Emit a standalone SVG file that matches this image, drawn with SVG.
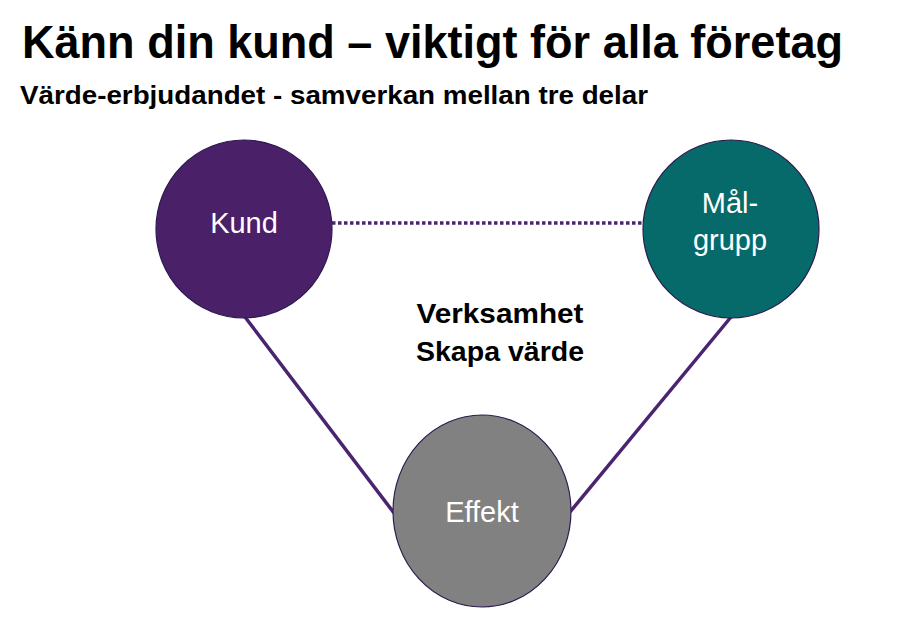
<svg xmlns="http://www.w3.org/2000/svg" width="910" height="618" viewBox="0 0 910 618">
  <style>
    .title { font-family: "Liberation Sans", Arial, sans-serif; font-weight: bold; fill: #000; }
    .label { font-family: "Liberation Sans", Arial, sans-serif; font-size: 29px; fill: #ffffff; text-anchor: middle; }
    .center { font-family: "Liberation Sans", Arial, sans-serif; font-weight: bold; font-size: 27px; fill: #000; text-anchor: middle; }
    .node { stroke: #2e1a4f; stroke-width: 1.2; }
    .conn { stroke: #4a2470; stroke-width: 3.5; fill: none; }
  </style>
  <rect width="910" height="618" fill="#ffffff"/>
  <text class="title" x="22" y="58" font-size="46" textLength="821" lengthAdjust="spacingAndGlyphs">Känn din kund – viktigt för alla företag</text>
  <text class="title" x="20" y="104" font-size="25" textLength="628" lengthAdjust="spacingAndGlyphs">Värde-erbjudandet - samverkan mellan tre delar</text>

  <g id="connectors">
    <line class="conn" x1="332" y1="223" x2="643" y2="223" stroke-dasharray="3.5 2.5"/>
    <line class="conn" x1="245" y1="317" x2="394" y2="513"/>
    <line class="conn" x1="731" y1="317" x2="570" y2="512"/>
  </g>

  <g id="kund">
    <ellipse class="node" cx="244" cy="229" rx="88" ry="89" fill="#4a2068"/>
    <text class="label" x="244" y="233">Kund</text>
  </g>
  <g id="malgrupp">
    <ellipse class="node" cx="731" cy="229" rx="88" ry="89" fill="#066a6a"/>
    <text class="label" x="730" y="213">Mål-</text>
    <text class="label" x="730" y="250">grupp</text>
  </g>
  <g id="effekt">
    <ellipse class="node" cx="482" cy="511" rx="89" ry="96" fill="#818181"/>
    <text class="label" x="482" y="522">Effekt</text>
  </g>
  <g id="verksamhet">
    <text class="center" x="500" y="323" textLength="167" lengthAdjust="spacingAndGlyphs">Verksamhet</text>
    <text class="center" x="500" y="361" textLength="168" lengthAdjust="spacingAndGlyphs">Skapa värde</text>
  </g>
</svg>
